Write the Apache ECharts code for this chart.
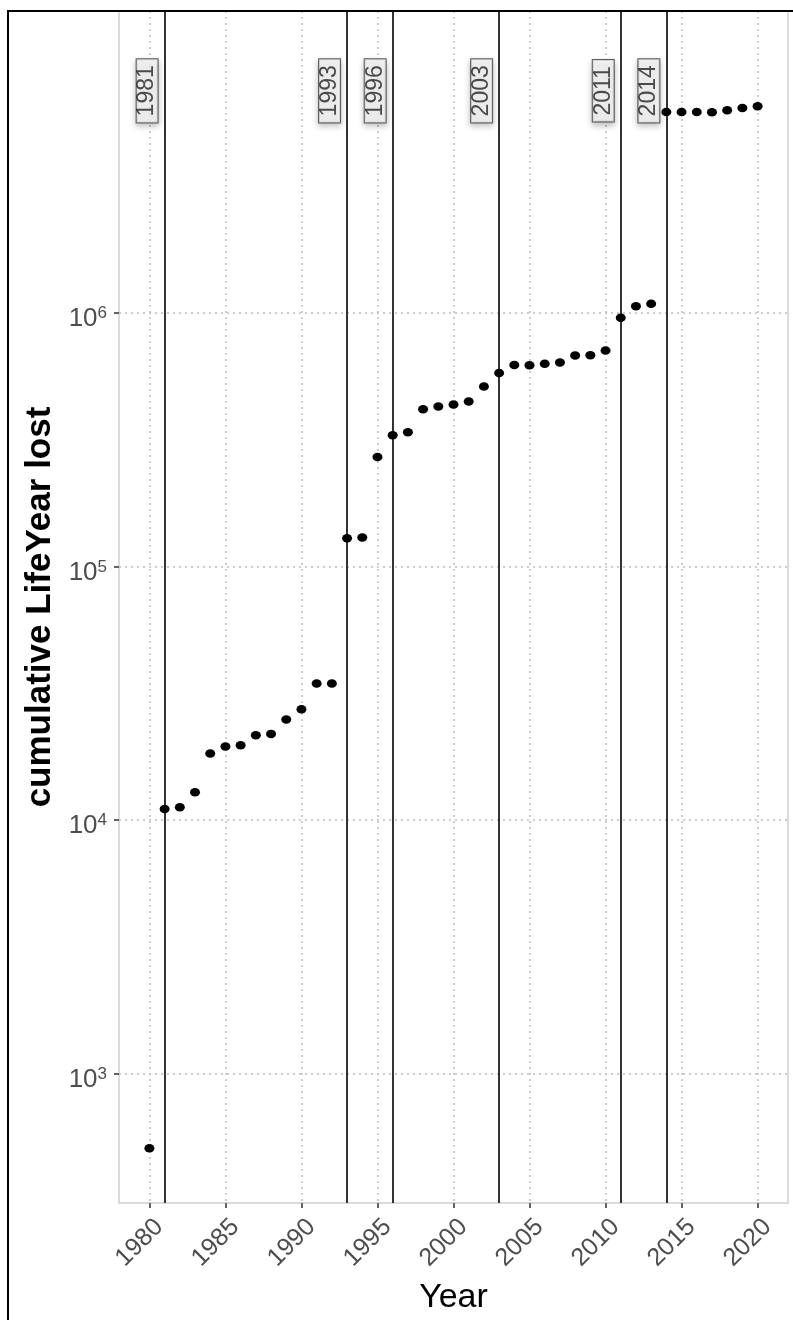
<!DOCTYPE html>
<html>
<head>
<meta charset="utf-8">
<script src="https://cdn.jsdelivr.net/npm/echarts@6/dist/echarts.min.js"></script>
<style>
  html, body { margin: 0; padding: 0; background: #ffffff; }
  #chart { width: 793px; height: 1320px; }
</style>
</head>
<body>
<div id="chart"></div>
<script>
// Cumulative life-years lost per year
const years = [
  1980, 1981, 1982, 1983, 1984, 1985, 1986, 1987, 1988, 1989,
  1990, 1991, 1992, 1993, 1994, 1995, 1996, 1997, 1998, 1999,
  2000, 2001, 2002, 2003, 2004, 2005, 2006, 2007, 2008, 2009,
  2010, 2011, 2012, 2013, 2014, 2015, 2016, 2017, 2018, 2019, 2020
];
const lifeYearsLost = [
  508, 11050, 11220, 12850, 18300, 19500, 19700, 21600, 21850, 24900,
  27300, 34500, 34500, 129000, 130000, 270000, 329000, 338000, 416000, 427000,
  435000, 447000, 512000, 578000, 622000, 621000, 629000, 636000, 678000, 680000,
  709000, 956000, 1061000, 1084000, 6190000, 6190000, 6190000, 6180000, 6280000, 6420000, 6520000
];
// Years marked with a vertical reference line and a tag
const eventYears = [1981, 1993, 1996, 2003, 2011, 2014];
// Tick positions
const xTicks = [1980, 1985, 1990, 1995, 2000, 2005, 2010, 2015, 2020];
const yTicks = [1e3, 1e4, 1e5, 1e6];

const FONT = '"Liberation Sans", Arial, Helvetica, sans-serif';
const TAG_LEVEL = 7.5e6;      // height of the year tags
const TAG_SHIFT = 1.15;       // tags sit just left of their line (in years)

const chart = echarts.init(document.getElementById('chart'), null, { renderer: 'canvas' });

const points = years.map((y, i) => [y, lifeYearsLost[i]]);
const tags = eventYears.map(y => [y - TAG_SHIFT, TAG_LEVEL, y]);

chart.setOption({
  animation: false,
  backgroundColor: '#ffffff',
  grid: {
    left: 119, right: 5, top: 11, bottom: 112,
    show: true, borderColor: '#cfcfcf', borderWidth: 1.5, backgroundColor: 'transparent'
  },
  xAxis: {
    type: 'value',
    min: 1978, max: 2022,
    name: 'Year',
    nameLocation: 'middle',
    nameGap: 78,
    nameTextStyle: { fontFamily: FONT, fontSize: 34, color: '#000' },
    axisLine: { show: false },
    axisTick: { show: true, length: 5, customValues: xTicks, lineStyle: { color: '#333', width: 1.5 } },
    axisLabel: {
      customValues: xTicks, rotate: 45, margin: 30,
      padding: [0, -14, 0, 0],
      formatter: v => String(v),
      fontFamily: FONT, fontSize: 25, color: '#4d4d4d'
    },
    splitLine: { show: true, lineStyle: { color: '#bdbdbd', width: 1.5, type: [2, 4] } }
  },
  yAxis: {
    type: 'log', logBase: 10,
    min: 308.8, max: 1.548e7,
    name: 'cumulative LifeYear lost',
    nameLocation: 'middle',
    nameGap: 60,
    nameTextStyle: { fontFamily: FONT, fontSize: 35, fontWeight: 'bold', color: '#000' },
    axisLine: { show: false },
    axisTick: { show: true, length: 5, customValues: yTicks, lineStyle: { color: '#333', width: 1.5 } },
    axisLabel: {
      customValues: yTicks, margin: 12,
      padding: [12, 0, 0, 0],
      formatter: v => '{b|10}{s|' + Math.round(Math.log10(v)) + '}',
      rich: {
        b: { fontFamily: FONT, fontSize: 26, color: '#4d4d4d', lineHeight: 28 },
        s: { fontFamily: FONT, fontSize: 17, color: '#4d4d4d', lineHeight: 12, verticalAlign: 'top' }
      }
    },
    splitLine: { show: true, lineStyle: { color: '#bdbdbd', width: 1.5, type: [2, 4] } }
  },
  series: [
    {
      name: 'events',
      type: 'scatter',
      z: 2,
      silent: true,
      symbolSize: 0,
      data: tags,
      label: {
        show: true, position: 'inside', rotate: 90,
        formatter: p => String(p.data[2]),
        fontFamily: FONT, fontSize: 23, lineHeight: 17, color: '#222',
        backgroundColor: '#f4f4f4', borderColor: '#3a3a3a', borderWidth: 1,
        padding: [2, 6, 2, 6],
        shadowBlur: 6, shadowColor: 'rgba(0,0,0,0.28)', shadowOffsetX: 0, shadowOffsetY: 3
      },
      markLine: {
        silent: true,
        symbol: ['none', 'none'],
        label: { show: false },
        lineStyle: { color: '#333333', width: 2, type: 'solid' },
        data: eventYears.map(y => ({ xAxis: y }))
      }
    },
    {
      name: 'LifeYear lost',
      type: 'scatter',
      z: 5,
      symbol: 'circle',
      symbolSize: [10, 8.5],
      itemStyle: { color: '#000000', opacity: 1 },
      data: points
    }
  ],
  graphic: [
    {
      type: 'rect', z: 100, silent: true,
      shape: { x: 8, y: 11, width: 900, height: 1400 },
      style: { fill: 'none', stroke: '#000000', lineWidth: 2 }
    }
  ]
});
</script>
</body>
</html>
